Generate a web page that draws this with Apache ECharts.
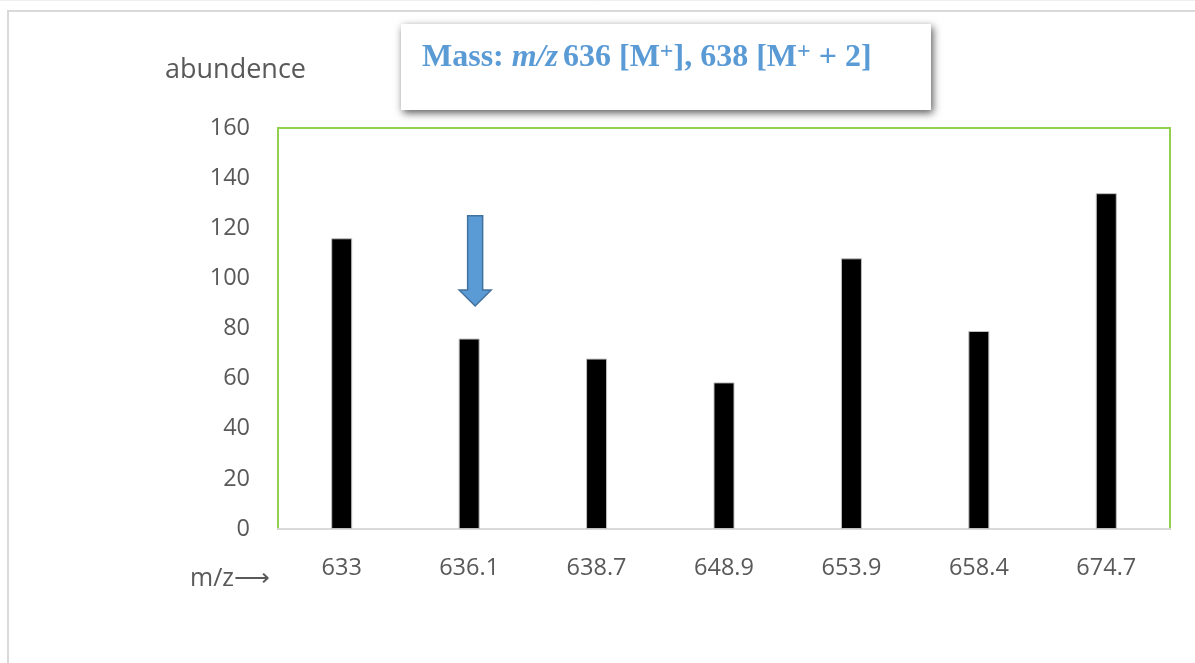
<!DOCTYPE html>
<html>
<head>
<meta charset="utf-8">
<script src="https://cdn.jsdelivr.net/npm/echarts@6/dist/echarts.min.js"></script>
<style>
html,body{margin:0;padding:0;background:#fff;}
#chart{width:1195px;height:663px;}
</style>
</head>
<body>
<div id="chart"></div>
<script>
var categories = ['633', '636.1', '638.7', '648.9', '653.9', '658.4', '674.7'];
var abundance = [116, 76, 68, 58.5, 108, 79, 134];
var yTicks = [0, 20, 40, 60, 80, 100, 120, 140, 160];
var arrowCategoryIndex = 1;
var arrowFromValue = 125;
var arrowToValue = 89;

var chart = echarts.init(document.getElementById('chart'), null, {renderer: 'canvas'});
var labelFont = '"Open Sans", "Noto Sans", sans-serif';
var serif = '"Liberation Serif", "DejaVu Serif", serif';

var option = {
  animation: false,
  backgroundColor: '#ffffff',
  grid: {
    left: 278, right: 25, top: 128, bottom: 134,
    show: true, borderColor: '#92D050', borderWidth: 2, backgroundColor: 'transparent'
  },
  xAxis: {
    type: 'category',
    data: categories,
    axisLine: {show: true, lineStyle: {color: '#D9D9D9', width: 2}},
    axisTick: {show: false},
    axisLabel: {color: '#595959', fontSize: 23.5, fontFamily: labelFont, margin: 27}
  },
  yAxis: {
    type: 'value',
    min: yTicks[0], max: yTicks[yTicks.length - 1], interval: 20,
    axisLine: {show: false},
    axisTick: {show: false},
    splitLine: {show: false},
    axisLabel: {color: '#595959', fontSize: 23.5, fontFamily: labelFont, margin: 28, padding: [4, 0, 0, 0]}
  },
  series: [{
    type: 'bar',
    data: abundance,
    barWidth: 21,
    itemStyle: {color: '#000000', borderColor: '#BFBFBF', borderWidth: 1}
  }],
  graphic: [
    {type: 'rect', shape: {x: 8, y: 11, width: 1200, height: 700}, style: {fill: 'none', stroke: '#D9D9D9', lineWidth: 2}, z: 1},
    {type: 'line', shape: {x1: 0, y1: 0.5, x2: 1195, y2: 0.5}, style: {stroke: '#EEEEEE', lineWidth: 1}},
    {type: 'rect', shape: {x: 401, y: 24, width: 530, height: 86},
      style: {fill: '#ffffff', shadowBlur: 8, shadowColor: 'rgba(0,0,0,0.65)', shadowOffsetX: 2, shadowOffsetY: 3}, z: 10},
    {type: 'text', left: 422, top: 40, z: 11,
      style: {
        text: '{n|Mass: }{i|m/z}{n|636 [M}{s|+}{n|], 638 [M}{s|+}{n| + 2]}',
        rich: {
          n: {fontFamily: serif, fontWeight: 'bold', fontSize: 32, fill: '#5B9BD5'},
          i: {fontFamily: serif, fontWeight: 'bold', fontStyle: 'italic', fontSize: 32, fill: '#5B9BD5', padding: [0, 5, 0, 0]},
          s: {fontFamily: serif, fontWeight: 'bold', fontSize: 24, fill: '#5B9BD5', verticalAlign: 'top', padding: [0, 0, 12, 0]}
        }
      }
    },
    {type: 'text', left: 165, top: 57, style: {text: 'abundence', fontSize: 27, fontFamily: labelFont, fill: '#595959'}},
    {type: 'text', left: 190, top: 566, style: {text: 'm/z\u27F6', fontSize: 25, fontFamily: labelFont, fill: '#595959'}}
  ]
};
chart.setOption(option);

// annotation arrow placed through the chart's own scales
var p1 = chart.convertToPixel({gridIndex: 0}, [arrowCategoryIndex, arrowFromValue]);
var p2 = chart.convertToPixel({gridIndex: 0}, [arrowCategoryIndex, arrowToValue]);
var cx = p1[0] + 6, yTop = p1[1], yTip = p2[1];
var headH = 16, shaftHalf = 7.5, headHalf = 16;
chart.setOption({
  graphic: option.graphic.concat([{
    type: 'polygon', z: 20,
    shape: {points: [
      [cx - shaftHalf, yTop], [cx + shaftHalf, yTop], [cx + shaftHalf, yTip - headH],
      [cx + headHalf, yTip - headH], [cx, yTip], [cx - headHalf, yTip - headH], [cx - shaftHalf, yTip - headH]
    ]},
    style: {fill: '#5B9BD5', stroke: '#41719C', lineWidth: 1.5}
  }])
});
</script>
</body>
</html>
